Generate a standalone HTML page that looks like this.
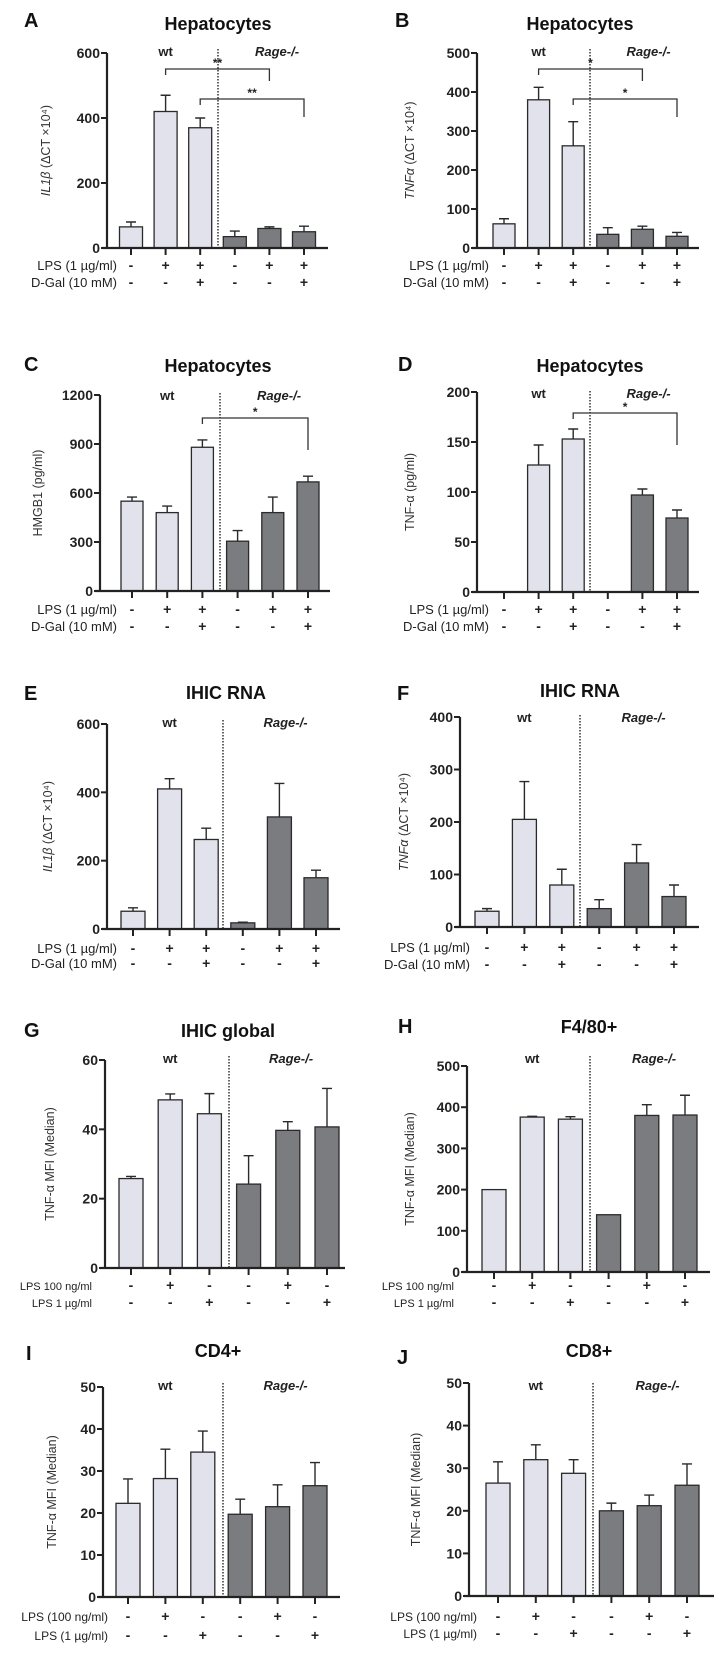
<!DOCTYPE html>
<html><head><meta charset="utf-8"><style>
html,body{margin:0;padding:0;background:#fff;}
svg{display:block;font-family:"Liberation Sans",Arial,sans-serif;}
</style></head><body>
<svg id="fig" width="723" height="1653" viewBox="0 0 723 1653"></svg>
<script>
const groups = ["wt -", "wt +", "wt + +", "rage -", "rage +", "rage + +"];
const aValues = [65, 420, 370, 35, 60, 50];
const aErrors = [15, 50, 30, 17, 5, 17];
const bValues = [62, 380, 262, 35, 48, 30];
const bErrors = [13, 32, 62, 17, 8, 10];
const cValues = [550, 480, 880, 305, 480, 668];
const cErrors = [25, 40, 45, 65, 95, 35];
const dValues = [0, 127, 153, 0, 97, 74];
const dErrors = [0, 20, 10, 0, 6, 8];
const eValues = [52, 410, 262, 18, 328, 150];
const eErrors = [10, 30, 33, 2, 98, 22];
const fValues = [30, 205, 80, 35, 122, 58];
const fErrors = [5, 72, 30, 17, 35, 22];
const gValues = [25.8, 48.5, 44.5, 24.2, 39.7, 40.7];
const gErrors = [0.6, 1.7, 5.8, 8.2, 2.5, 11.1];
const hValues = [200, 376, 371, 139, 380, 381];
const hErrors = [0, 2, 6, 0, 26, 48];
const iValues = [22.3, 28.2, 34.5, 19.7, 21.5, 26.5];
const iErrors = [5.8, 7, 5, 3.6, 5.2, 5.5];
const jValues = [26.5, 32, 28.8, 20, 21.2, 26];
const jErrors = [5, 3.5, 3.2, 1.8, 2.5, 5];
const ticksA = [0, 200, 400, 600];
const ticksB = [0, 100, 200, 300, 400, 500];
const ticksC = [0, 300, 600, 900, 1200];
const ticksD = [0, 50, 100, 150, 200];
const ticksE = [0, 200, 400, 600];
const ticksF = [0, 100, 200, 300, 400];
const ticksG = [0, 20, 40, 60];
const ticksH = [0, 100, 200, 300, 400, 500];
const ticksIJ = [0, 10, 20, 30, 40, 50];
const lpsSigns = ["-", "+", "+", "-", "+", "+"];
const dgalSigns = ["-", "-", "+", "-", "-", "+"];
const lps100Signs = ["-", "+", "-", "-", "+", "-"];
const lps1Signs = ["-", "-", "+", "-", "-", "+"];

const NS = "http://www.w3.org/2000/svg";
const svg = document.getElementById("fig");
function mk(tag, attrs, parent, text) {
  const e = document.createElementNS(NS, tag);
  for (const k in attrs) e.setAttribute(k, attrs[k]);
  if (text !== undefined) e.textContent = text;
  (parent || svg).appendChild(e);
  return e;
}

const panels = [
 {id:"a", L:"A", lx:24, ly:27, title:"Hepatocytes", tx:218, ty:30, ax:107, xend:328, top:53, zero:248, max:600, ticks:ticksA, vals:aValues, errs:aErrors, c0:131, step:34.6, bw:23, div:218, gy:53, ylab:["IL1β", " (ΔCT ×10⁴)"], ylx:50, rows:[["LPS (1 µg/ml)",lpsSigns],["D-Gal (10 mM)",dgalSigns]], ry:[270,287], rlx:117, rfs:13, br:[[1,4,69,75,81,"**"],[2,5,99,105,117,"**"]]},
 {id:"b", L:"B", lx:395, ly:27, title:"Hepatocytes", tx:580, ty:30, ax:477, xend:699, top:53, zero:248, max:500, ticks:ticksB, vals:bValues, errs:bErrors, c0:504, step:34.6, bw:22, div:590, gy:53, ylab:["TNFα", " (ΔCT ×10⁴)"], ylx:414, rows:[["LPS (1 µg/ml)",lpsSigns],["D-Gal (10 mM)",dgalSigns]], ry:[270,287], rlx:489, rfs:13, br:[[1,4,69,75,81,"*"],[2,5,99,105,117,"*"]]},
 {id:"c", L:"C", lx:24, ly:371, title:"Hepatocytes", tx:218, ty:372, ax:100, xend:330, top:395, zero:591, max:1200, ticks:ticksC, vals:cValues, errs:cErrors, c0:132, step:35.2, bw:22, div:220, gy:397, ylab:["", "HMGB1  (pg/ml)"], ylx:42, rows:[["LPS (1 µg/ml)",lpsSigns],["D-Gal (10 mM)",dgalSigns]], ry:[614,631], rlx:117, rfs:13, br:[[2,5,418,424,450,"*"]]},
 {id:"d", L:"D", lx:398, ly:371, title:"Hepatocytes", tx:590, ty:372, ax:477, xend:699, top:392, zero:592, max:200, ticks:ticksD, vals:dValues, errs:dErrors, c0:504, step:34.6, bw:22, div:590, gy:395, ylab:["", "TNF-α  (pg/ml)"], ylx:414, rows:[["LPS (1 µg/ml)",lpsSigns],["D-Gal (10 mM)",dgalSigns]], ry:[614,631], rlx:489, rfs:13, br:[[2,5,413,419,445,"*"]]},
 {id:"e", L:"E", lx:24, ly:700, title:"IHIC RNA", tx:226, ty:699, ax:107, xend:340, top:724, zero:929, max:600, ticks:ticksE, vals:eValues, errs:eErrors, c0:133, step:36.6, bw:24, div:223, gy:724, ylab:["IL1β", "  (ΔCT ×10⁴)"], ylx:52, rows:[["LPS (1 µg/ml)",lpsSigns],["D-Gal (10 mM)",dgalSigns]], ry:[953,968], rlx:117, rfs:13, br:[]},
 {id:"f", L:"F", lx:397, ly:700, title:"IHIC RNA", tx:580, ty:697, ax:460, xend:699, top:717, zero:927, max:400, ticks:ticksF, vals:fValues, errs:fErrors, c0:487, step:37.4, bw:24, div:580, gy:719, ylab:["TNFα", "  (ΔCT ×10⁴)"], ylx:408, rows:[["LPS (1 µg/ml)",lpsSigns],["D-Gal (10 mM)",dgalSigns]], ry:[952,969], rlx:470, rfs:13, br:[]},
 {id:"g", L:"G", lx:24, ly:1037, title:"IHIC global", tx:228, ty:1037, ax:105, xend:345, top:1060, zero:1268, max:60, ticks:ticksG, vals:gValues, errs:gErrors, c0:131, step:39.2, bw:24, div:229, gy:1060, ylab:["", "TNF-α MFI (Median)"], ylx:54, rows:[["LPS 100 ng/ml",lps100Signs],["LPS 1 µg/ml",lps1Signs]], ry:[1290,1307], rlx:92, rfs:11, br:[]},
 {id:"h", L:"H", lx:398, ly:1033, title:"F4/80+", tx:589, ty:1033, ax:467, xend:710, top:1066, zero:1272, max:500, ticks:ticksH, vals:hValues, errs:hErrors, c0:494, step:38.2, bw:24, div:590, gy:1060, ylab:["", "TNF-α MFI (Median)"], ylx:414, rows:[["LPS 100 ng/ml",lps100Signs],["LPS 1 µg/ml",lps1Signs]], ry:[1290,1307], rlx:454, rfs:11, br:[]},
 {id:"i", L:"I", lx:26, ly:1360, title:"CD4+", tx:218, ty:1357, ax:103, xend:340, top:1387, zero:1597, max:50, ticks:ticksIJ, vals:iValues, errs:iErrors, c0:128, step:37.4, bw:24, div:223, gy:1387, ylab:["", "TNF-α MFI (Median)"], ylx:56, rows:[["LPS (100 ng/ml)",lps100Signs],["LPS (1 µg/ml)",lps1Signs]], ry:[1621,1640], rlx:108, rfs:12, br:[]},
 {id:"j", L:"J", lx:397, ly:1364, title:"CD8+", tx:589, ty:1357, ax:469, xend:714, top:1383, zero:1596, max:50, ticks:ticksIJ, vals:jValues, errs:jErrors, c0:498, step:37.8, bw:24, div:593, gy:1387, ylab:["", "TNF-α MFI (Median)"], ylx:420, rows:[["LPS (100 ng/ml)",lps100Signs],["LPS (1 µg/ml)",lps1Signs]], ry:[1621,1638], rlx:477, rfs:12, br:[]}
];

panels.forEach(p => {
  const g = mk("g", {});
  
  
  const y = v => p.zero - (v / p.max) * (p.zero - p.top);
  const x = i => p.c0 + i * p.step;
  const lt = mk("text", {x:p.lx, y:p.ly, "font-size":20, "font-weight":"bold", fill:"#111"}, g, p.L);
  
  
  const tt = mk("text", {x:p.tx, y:p.ty, "font-size":18, "font-weight":"bold", fill:"#111", "text-anchor":"middle"}, g, p.title);
  
  
  const wt = mk("text", {x:x(1), y:p.gy+3, "font-size":13, "font-weight":"bold", fill:"#222", "text-anchor":"middle"}, g, "wt");
  
  
  const rg = mk("text", {x:(p.div + p.xend)/2 + 4, y:p.gy+3, "font-size":13, "font-weight":"bold", "font-style":"italic", fill:"#222", "text-anchor":"middle"}, g, "Rage-/-");
  
  
  const dv = mk("line", {x1:p.div, x2:p.div, y1:p.gy-4, y2:p.zero, stroke:"#333", "stroke-width":1.5, "stroke-dasharray":"1.5,1.5"}, g);
  
  
  p.vals.forEach((v, i) => {
    const cx = x(i);
    if (v > 0) {
      const r = mk("rect", {x:cx - p.bw/2, y:y(v), width:p.bw, height:p.zero - y(v), fill:i < 3 ? "#e2e2ec" : "#7b7c80", stroke:"#2a2a2a", "stroke-width":1.3}, g);
      
      
    }
    const e = p.errs[i];
    if (e > 0) {
      const el = mk("path", {d:`M${cx},${y(v)} V${y(v+e)} M${cx-5},${y(v+e)} H${cx+5}`, stroke:"#2a2a2a", "stroke-width":1.4, fill:"none"}, g);
      
      
    }
    const tk = mk("line", {x1:cx, x2:cx, y1:p.zero, y2:p.zero+7, stroke:"#222", "stroke-width":2}, g);
    
    
  });
  const ya = mk("line", {x1:p.ax, x2:p.ax, y1:p.top, y2:p.zero+1, stroke:"#222", "stroke-width":2.2}, g);
  
  
  const xa = mk("line", {x1:p.ax-5, x2:p.xend, y1:p.zero, y2:p.zero, stroke:"#222", "stroke-width":2.2}, g);
  
  
  p.ticks.forEach(t => {
    const tl = mk("line", {x1:p.ax-6, x2:p.ax, y1:y(t), y2:y(t), stroke:"#222", "stroke-width":2}, g);
    
    
    const tx = mk("text", {x:p.ax-7, y:y(t)+5, "font-size":14, "font-weight":"bold", fill:"#222", "text-anchor":"end"}, g, String(t));
    
    
  });
  const cy = (p.top + p.zero) / 2;
  const yl = mk("text", {x:p.ylx, y:cy, "font-size":12.5, fill:"#333", "text-anchor":"middle", transform:`rotate(-90 ${p.ylx} ${cy})`}, g);
  
  
  if (p.ylab[0]) mk("tspan", {"font-style":"italic"}, yl, p.ylab[0]);
  mk("tspan", {}, yl, p.ylab[1]);
  p.rows.forEach((row, ri) => {
    const rl = mk("text", {x:p.rlx, y:p.ry[ri], "font-size":p.rfs, fill:"#222", "text-anchor":"end"}, g, row[0]);
    
    
    row[1].forEach((s, i) => {
      const st = mk("text", {x:x(i), y:p.ry[ri], "font-size":14, "font-weight":"bold", fill:"#222", "text-anchor":"middle"}, g, s);
      
      
    });
  });
  p.br.forEach(b => {
    const x1 = x(b[0]), x2 = x(b[1]);
    const bp = mk("path", {d:`M${x1},${b[3]} V${b[2]} H${x2} V${b[4]}`, stroke:"#333", "stroke-width":1.3, fill:"none"}, g);
    
    
    const bs = mk("text", {x:(x1+x2)/2, y:b[2]-2, "font-size":12, "font-weight":"bold", fill:"#222", "text-anchor":"middle"}, g, b[5]);
    
    
  });
});
</script>
</body></html>
